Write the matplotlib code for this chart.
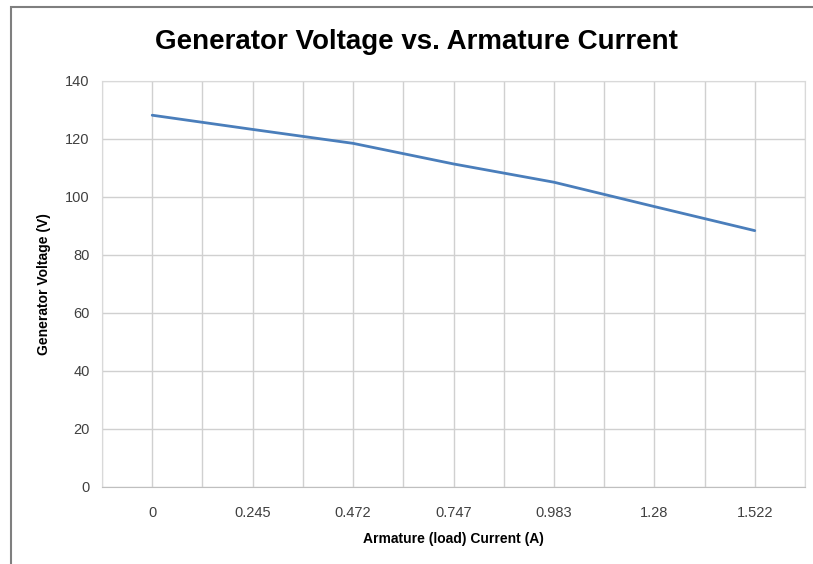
import numpy as np
import matplotlib
matplotlib.use('Agg')
from matplotlib import pyplot as plt
from matplotlib.patches import Rectangle

# Data
current_labels = ['0', '0.245', '0.472', '0.747', '0.983', '1.28', '1.522']
voltage = [128.2, 123.3, 118.5, 111.4, 105.1, 96.7, 88.4]

plt.rcParams['font.family'] = ['Liberation Sans Narrow', 'Liberation Sans', 'DejaVu Sans']

fig = plt.figure(figsize=(8.13, 5.64), dpi=100)
ax = fig.add_axes([102 / 813, 1 - 487 / 564, (805 - 102) / 813, (487 - 81) / 564])

x = np.arange(1, len(voltage) + 1)
ax.plot(x, voltage, color='#4a7ebb', linewidth=2.0, solid_capstyle='round', zorder=3)

ax.set_xlim(0.5, len(voltage) + 0.5)
ax.set_ylim(0, 140)
ax.set_yticks(np.arange(0, 141, 20))
ax.set_xticks(x)
ax.set_xticklabels(current_labels)
ax.set_xticks(np.arange(0.5, len(voltage) + 1, 1), minor=True)

ax.grid(True, which='major', color='#d0d0d0', linewidth=1.0)
ax.grid(True, which='minor', axis='x', color='#d0d0d0', linewidth=1.0)
ax.tick_params(which='both', length=0, labelsize=10.5, colors='#404040', pad=9)
ax.tick_params(axis='x', pad=14)

for side in ['top', 'right', 'left']:
    ax.spines[side].set_color('#d9d9d9')
ax.spines['bottom'].set_color('#bfbfbf')

ax.set_xlabel('Armature (load) Current (A)', fontsize=10, fontweight='bold', labelpad=8)
ax.set_ylabel('Generator Voltage (V)', fontsize=10, fontweight='bold', labelpad=10)
fig.text(416 / 813, 1 - 42 / 564, 'Generator Voltage vs. Armature Current',
         ha='center', va='center', fontsize=20, fontweight='bold')

# chart border (only left and top visible in the crop)
fig.patches.append(Rectangle((11 / 813, -0.1), 1.2, 1 - 7 / 564 + 0.1,
                             transform=fig.transFigure, fill=False,
                             edgecolor='#7f7f7f', linewidth=1.5))

fig.savefig('out.png', dpi=100)
